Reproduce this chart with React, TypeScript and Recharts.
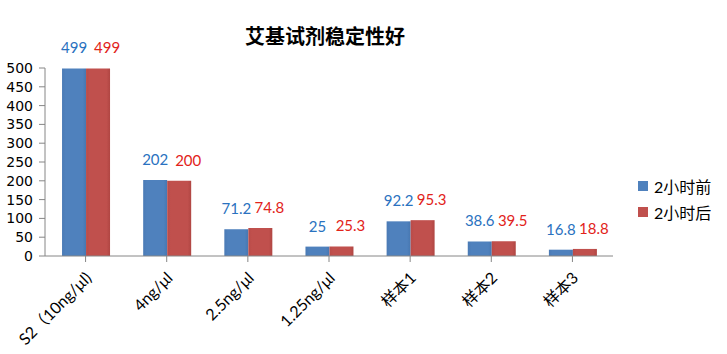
import { Bar, BarChart, LabelList, Legend, XAxis, YAxis } from "recharts";

if (typeof document !== "undefined") document.body.style.margin = "0";

const categories = ["S2（10ng/μl)", "4ng/μl", "2.5ng/μl", "1.25ng/μl", "样本1", "样本2", "样本3"];
const before = [499, 202, 71.2, 25, 92.2, 38.6, 16.8];
const after = [499, 200, 74.8, 25.3, 95.3, 39.5, 18.8];
const yTicks = [0, 50, 100, 150, 200, 250, 300, 350, 400, 450, 500];

const data = categories.map((name, i) => ({ name, before: before[i], after: after[i] }));

const FONT = "'DejaVu Sans', 'Noto Sans CJK SC', sans-serif";
const SOFT = "Lato, 'Noto Sans CJK SC', sans-serif";
const BLUE = "#4F81BD";
const RED = "#C0504D";

function XTick({ x, y, payload }: any) {
  const ax = x + 7;
  const ay = y + 15;
  return (
    <text
      x={ax}
      y={ay}
      transform={`rotate(-45, ${ax}, ${ay})`}
      textAnchor="end"
      fontSize={16}
      fontFamily={SOFT}
      fill="#000"
    >
      {payload.value}
    </text>
  );
}

function LegendBox() {
  const items = [
    { label: "2小时前", color: BLUE },
    { label: "2小时后", color: RED },
  ];
  return (
    <div style={{ paddingLeft: 25, fontFamily: SOFT, fontSize: 16 }}>
      {items.map((it) => (
        <div key={it.label} style={{ display: "flex", alignItems: "center", height: 26 }}>
          <span style={{ width: 10, height: 10, background: it.color, marginRight: 6 }} />
          <span>{it.label}</span>
        </div>
      ))}
    </div>
  );
}

export default function App() {
  return (
    <div style={{ position: "relative", width: 727, height: 354, background: "#fff" }}>
      <div
        style={{
          position: "absolute",
          top: 21,
          left: 0,
          width: 650,
          textAlign: "center",
          fontFamily: "'Noto Sans CJK SC', sans-serif",
          fontWeight: 700,
          fontSize: 20,
          zIndex: 1,
        }}
      >
        艾基试剂稳定性好
      </div>
      <BarChart
        width={727}
        height={354}
        data={data}
        margin={{ top: 68, right: 14, bottom: 0, left: 0 }}
        barCategoryGap="21%"
        barGap={0}
      >
        <defs>
          <linearGradient id="gBlue" x1="0" y1="0" x2="1" y2="0">
            <stop offset="0%" stopColor="#4A7AB5" />
            <stop offset="15%" stopColor={BLUE} />
            <stop offset="85%" stopColor={BLUE} />
            <stop offset="100%" stopColor="#4777B0" />
          </linearGradient>
          <linearGradient id="gRed" x1="0" y1="0" x2="1" y2="0">
            <stop offset="0%" stopColor="#B94B48" />
            <stop offset="15%" stopColor={RED} />
            <stop offset="85%" stopColor={RED} />
            <stop offset="100%" stopColor="#B04643" />
          </linearGradient>
        </defs>
        <XAxis
          dataKey="name"
          height={98}
          interval={0}
          tick={<XTick />}
          tickSize={6}
          stroke="#868686"
          axisLine={{ stroke: "#868686" }}
          tickLine={{ stroke: "#868686" }}
        />
        <YAxis
          width={45}
          domain={[0, 500]}
          ticks={yTicks}
          interval={0}
          tickSize={6}
          tickMargin={6}
          stroke="#868686"
          tick={{ fontSize: 14, fill: "#000", fontFamily: FONT }}
        />
        <Legend
          layout="vertical"
          align="right"
          verticalAlign="top"
          wrapperStyle={{ width: 100, top: 173 }}
          content={<LegendBox />}
        />
        <Bar dataKey="before" name="2小时前" fill="url(#gBlue)" isAnimationActive={false}>
          <LabelList
            dataKey="before"
            position="top"
            offset={15}
            fill="#2A72C0"
            fontSize={15}
            fontFamily={SOFT}
          />
        </Bar>
        <Bar dataKey="after" name="2小时后" fill="url(#gRed)" isAnimationActive={false}>
          <LabelList
            dataKey="after"
            position="top"
            offset={15}
            fill="#E2231A"
            fontSize={15}
            fontFamily={SOFT}
            dx={9}
          />
        </Bar>
      </BarChart>
    </div>
  );
}
